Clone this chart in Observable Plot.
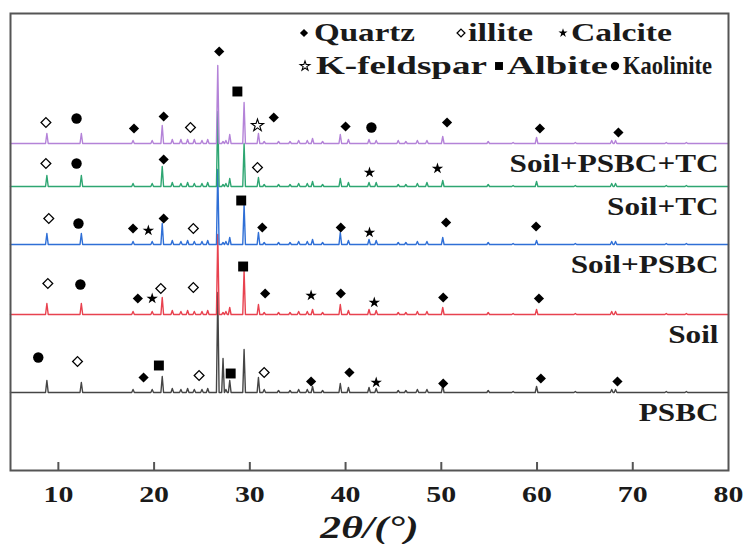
<!DOCTYPE html>
<html><head><meta charset="utf-8">
<script src="https://cdn.jsdelivr.net/npm/d3@7"></script>
<script src="https://cdn.jsdelivr.net/npm/@observablehq/plot@0.6"></script>
<style>
body{margin:0;background:#fff;}
#wrap{position:relative;width:743px;height:544px;overflow:hidden;}
#legend{position:absolute;left:0;top:0;pointer-events:none;}
</style></head><body><div id="wrap"></div>
<script>
// ---- data ----
const seriesNames = ["PSBC", "Soil", "Soil+PSBC", "Soil+TC", "Soil+PSBC+TC"];
const seriesColors = ["#454545", "#e8424f", "#2f6fd6", "#2ea672", "#b483d8"];
const seriesOffsets = [78, 156, 226, 284, 327];

const peakPositions = [8.8, 12.4, 17.8, 19.8, 20.85, 21.9, 22.8, 23.5, 24.2, 25.0, 25.6, 26.65, 27.2, 27.5, 27.9, 29.4, 30.9, 31.5, 33.0, 34.2, 35.1, 36.0, 36.55, 37.6, 39.45, 40.3, 42.45, 43.2, 45.5, 46.3, 47.5, 48.5, 50.15, 54.9, 57.5, 59.95, 64.0, 67.8, 68.2, 73.5, 75.6];
const heightsPSBC      = [12, 10, 3, 3, 16, 4, 3, 4, 3, 3, 4, 100, 34, 3, 12, 43, 15, 3, 2, 2, 3, 3, 6, 2, 9, 5, 5, 4, 2, 2, 3, 3, 7, 2, 1, 6, 1, 3, 3, 1, 1];
const heightsSoil      = [11, 11, 3, 3, 17, 4, 3, 4, 3, 3, 4, 80, 2, 3, 7, 44, 10, 2, 2, 2, 3, 3, 5, 2, 10, 4, 5, 4, 2, 2, 3, 3, 7, 2, 1, 5, 1, 3, 3, 1, 1];
const heightsSoilPSBC  = [11, 11, 3, 3, 21, 4, 3, 4, 3, 3, 4, 75, 2, 3, 7, 40, 12, 2, 2, 2, 3, 3, 5, 2, 12, 4, 5, 4, 2, 2, 3, 3, 7, 2, 1, 4, 1, 3, 3, 1, 1];
const heightsSoilTC    = [11, 11, 3, 3, 20, 4, 3, 4, 3, 3, 4, 75, 2, 3, 8, 43, 9, 2, 2, 2, 3, 3, 5, 2, 8, 4, 4, 4, 2, 2, 3, 4, 6, 2, 1, 5, 1, 3, 3, 1, 1];
const heightsAll       = [10, 10, 3, 3, 18, 4, 4, 4, 4, 3, 4, 78, 2, 3, 9, 41, 10, 2, 2, 2, 3, 3, 5, 2, 9, 4, 4, 3, 3, 2, 3, 3, 7, 2, 1, 6, 1, 3, 3, 1, 1];
const seriesHeights = [heightsPSBC, heightsSoil, heightsSoilPSBC, heightsSoilTC, heightsAll];

const xTicks = [10, 20, 30, 40, 50, 60, 70, 80];
const xTitle = "2θ/(°)";

// phase markers: [series index, 2θ, height above trace baseline, phase]
const phaseMarkers = [
  [4, 8.7, 21, "illite"], [4, 11.9, 25, "Kaolinite"], [4, 17.9, 15, "Quartz"], [4, 21.0, 27, "Quartz"],
  [4, 23.8, 16, "illite"], [4, 26.8, 92, "Quartz"], [4, 28.7, 52, "Albite"], [4, 30.8, 18, "K-feldspar"],
  [4, 32.5, 26, "Quartz"], [4, 40.0, 17, "Quartz"], [4, 42.7, 16, "Kaolinite"], [4, 50.6, 21, "Quartz"],
  [4, 60.3, 15, "Quartz"], [4, 68.5, 11, "Quartz"],
  [3, 8.7, 23, "illite"], [3, 11.9, 23, "Kaolinite"], [3, 21.0, 27, "Quartz"], [3, 30.8, 19, "illite"],
  [3, 42.5, 14, "Calcite"], [3, 49.6, 18, "Calcite"],
  [2, 9.0, 26, "illite"], [2, 12.1, 21, "Kaolinite"], [2, 17.8, 16, "Quartz"], [2, 19.4, 14, "Calcite"],
  [2, 21.0, 26, "Quartz"], [2, 24.1, 16, "illite"], [2, 29.1, 44, "Albite"], [2, 31.3, 17, "Quartz"],
  [2, 39.5, 17, "Quartz"], [2, 42.5, 12, "Calcite"], [2, 50.5, 22, "Quartz"], [2, 59.9, 18, "Quartz"],
  [1, 8.9, 31, "illite"], [1, 12.3, 30, "Kaolinite"], [1, 18.3, 16, "Quartz"], [1, 19.8, 16, "Calcite"],
  [1, 20.7, 26, "illite"], [1, 24.1, 27, "illite"], [1, 29.3, 48, "Albite"], [1, 31.6, 21, "Quartz"],
  [1, 36.4, 19, "Calcite"], [1, 39.5, 21, "Quartz"], [1, 43.0, 12, "Calcite"], [1, 50.2, 17, "Quartz"],
  [1, 60.2, 16, "Quartz"],
  [0, 7.9, 35, "Kaolinite"], [0, 12.0, 31, "illite"], [0, 18.9, 15, "Quartz"], [0, 20.5, 27, "Albite"],
  [0, 24.7, 17, "illite"], [0, 28.0, 19, "Albite"], [0, 31.5, 20, "illite"], [0, 36.4, 11, "Quartz"],
  [0, 40.4, 20, "Quartz"], [0, 43.2, 10, "Calcite"], [0, 50.2, 9, "Quartz"], [0, 60.4, 14, "Quartz"],
  [0, 68.4, 11, "Quartz"]
];
const legendRow1 = ["Quartz", "illite", "Calcite"];
const legendRow2 = ["K-feldspar", "Albite", "Kaolinite"];

// ---- styles per phase ----
const phaseStyle = {
  "Quartz":     {symbol: "diamond2", r: 4.6, fill: "black", stroke: "none", sw: 0},
  "illite":     {symbol: "diamond2", r: 4.4, fill: "white", stroke: "black", sw: 1.3},
  "Calcite":    {symbol: "star", r: 3.6, fill: "black", stroke: "none", sw: 0},
  "K-feldspar": {symbol: "star", r: 3.8, fill: "white", stroke: "black", sw: 1.1},
  "Albite":     {symbol: "square", r: 5.6, fill: "black", stroke: "none", sw: 0},
  "Kaolinite":  {symbol: "circle", r: 5.2, fill: "black", stroke: "none", sw: 0}
};

// ---- build line tables ----
const halfWidth = 0.14;
const lines = seriesNames.map((name, si) => {
  const pts = [{x: 5, y: seriesOffsets[si]}];
  peakPositions.forEach((p, pi) => {
    const h = seriesHeights[si][pi];
    pts.push({x: p - halfWidth, y: seriesOffsets[si]}, {x: p, y: seriesOffsets[si] + h}, {x: p + halfWidth, y: seriesOffsets[si]});
  });
  pts.push({x: 80, y: seriesOffsets[si]});
  return pts;
});
const markers = phaseMarkers.map(([s, t, h, phase]) => ({s, t, h, phase}));

const serif = "'Liberation Serif','Times New Roman',serif";

const marks = [
  ...lines.map((pts, si) => Plot.line(pts, {x: "x", y: "y", stroke: seriesColors[si], strokeWidth: 1.4})),
  ...Object.keys(phaseStyle).map(ph => {
    const st = phaseStyle[ph];
    return Plot.dot(markers.filter(d => d.phase === ph), {
      x: "t", y: d => seriesOffsets[d.s] + d.h, symbol: st.symbol, r: st.r,
      fill: st.fill, stroke: st.stroke, strokeWidth: st.sw
    });
  }),
  Plot.text(seriesNames, {y: (d, i) => seriesOffsets[i], frameAnchor: "right", text: d => d, textAnchor: "end",
    dx: -10, dy: 20, fontSize: 26, fontWeight: "bold", fill: "#1a1a1a", className: "lbl"}),
  Plot.ruleX(xTicks.filter(t => t < 80), {y1: 0, y2: 8, stroke: "#555", strokeWidth: 2}),
  Plot.axisX(xTicks, {tickSize: 0, tickPadding: 15, fontSize: 23, fontWeight: "bold", label: null, fill: "#1a1a1a", className: "tick"}),
  Plot.text([xTitle], {frameAnchor: "bottom", dy: 67, text: d => d, fontSize: 32, fontWeight: "bold", fontStyle: "italic", fill: "#1a1a1a", className: "ttl"}),
  Plot.frame({stroke: "#555", strokeWidth: 2})
];

const plot = Plot.plot({
  width: 743, height: 544,
  marginLeft: 10, marginRight: 15, marginTop: 13, marginBottom: 74,
  x: {domain: [5, 80], axis: null},
  y: {domain: [0, 457], axis: null},
  style: {fontFamily: serif, background: "white", overflow: "visible"},
  marks
});
const wrap = document.getElementById("wrap");
wrap.appendChild(plot);

function stretch(sel, k) {
  plot.querySelectorAll(sel).forEach(t => {
    const w = t.getComputedTextLength();
    t.setAttribute("textLength", w * k);
    t.setAttribute("lengthAdjust", "spacingAndGlyphs");
  });
}
stretch(".lbl text", 1.2);
stretch(".tick text", 1.3);
stretch(".ttl text", 1.3);

// ---- legend overlay ----
const lg = d3.select(wrap).append("svg").attr("id", "legend").attr("width", 743).attr("height", 100)
  .style("font-family", serif).style("font-weight", "bold");
const symMap = {circle: d3.symbolCircle, diamond2: d3.symbolDiamond2, star: d3.symbolStar, square: d3.symbolSquare};
const legendLayout = [
  {row: legendRow1, y: 41, items: [[304, 314, 415], [461, 468, 533], [563, 571, 672]]},
  {row: legendRow2, y: 74, items: [[305, 316, 487], [499, 507, 608], [615, 623, 712]]}
];
legendLayout.forEach(({row, y, items}) => {
  row.forEach((name, i) => {
    const [mx, tx0, tx1] = items[i];
    const st = phaseStyle[name];
    const size = Math.PI * (st.r * 0.8) ** 2;
    lg.append("path").attr("d", d3.symbol(symMap[st.symbol], size)())
      .attr("transform", `translate(${mx},${y - 8})`)
      .attr("fill", st.fill).attr("stroke", st.stroke === "none" ? null : st.stroke).attr("stroke-width", st.sw);
    lg.append("text").attr("x", tx0).attr("y", y).attr("font-size", 25).attr("fill", "#1a1a1a")
      .attr("textLength", tx1 - tx0).attr("lengthAdjust", "spacingAndGlyphs").text(name);
  });
});
</script></body></html>
